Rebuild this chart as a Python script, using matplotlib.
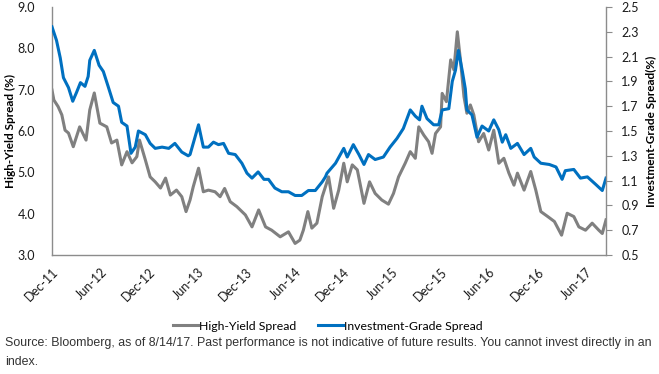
import matplotlib
matplotlib.use("Agg")
import matplotlib.pyplot as plt
import pandas as pd
from matplotlib.lines import Line2D

# ---------------- data ----------------
ig_dates = ["2011-12-01","2011-12-18","2012-01-01","2012-01-13","2012-02-01","2012-02-17","2012-03-02",
    "2012-03-17","2012-04-03","2012-04-15","2012-04-21","2012-05-08","2012-05-26","2012-06-11","2012-06-29",
    "2012-07-18","2012-08-07","2012-08-19","2012-09-08","2012-09-23","2012-10-09","2012-10-21","2012-11-16",
    "2012-12-04","2012-12-23","2013-01-18","2013-02-12","2013-03-07","2013-04-02","2013-04-26","2013-05-03",
    "2013-05-15","2013-06-04","2013-06-22","2013-07-11","2013-07-30","2013-08-18","2013-09-06","2013-09-25",
    "2013-10-20","2013-11-14","2013-12-03","2013-12-22","2014-01-14","2014-02-05","2014-02-22","2014-03-18",
    "2014-04-13","2014-05-08","2014-06-02","2014-06-27","2014-07-22","2014-08-17","2014-09-12","2014-09-24",
    "2014-09-30","2014-11-01","2014-12-02","2014-12-15","2015-01-07","2015-01-28","2015-02-16","2015-03-05",
    "2015-03-30","2015-04-30","2015-05-25","2015-06-20","2015-07-14","2015-08-09","2015-08-28","2015-09-13",
    "2015-09-22","2015-10-11","2015-11-05","2015-11-24","2015-12-07","2016-01-01","2016-01-14","2016-01-26",
    "2016-02-06","2016-02-21","2016-03-03","2016-03-09","2016-03-28","2016-04-16","2016-05-05","2016-05-30",
    "2016-06-18","2016-07-07","2016-07-20","2016-08-02","2016-08-21","2016-09-15","2016-10-10","2016-11-04",
    "2016-11-17","2016-12-12","2017-01-13","2017-02-07","2017-03-02","2017-03-14","2017-04-15","2017-05-10",
    "2017-06-05","2017-07-06","2017-07-31","2017-08-14"]
ig_values = [2.34,2.23,2.09,1.93,1.85,1.74,1.81,
    1.89,1.86,1.94,2.07,2.15,2.03,1.98,1.86,
    1.73,1.70,1.57,1.54,1.32,1.37,1.50,1.47,
    1.40,1.36,1.37,1.36,1.40,1.33,1.30,1.31,
    1.40,1.55,1.37,1.37,1.41,1.39,1.40,1.32,
    1.31,1.24,1.16,1.12,1.17,1.11,1.11,1.04,
    1.01,1.01,0.98,0.98,1.02,1.02,1.09,1.13,
    1.16,1.24,1.36,1.29,1.39,1.31,1.23,1.31,
    1.27,1.29,1.37,1.44,1.52,1.67,1.62,1.59,
    1.70,1.60,1.55,1.55,1.67,1.68,1.90,1.99,
    2.15,1.98,1.84,1.67,1.63,1.45,1.54,1.50,
    1.59,1.51,1.41,1.47,1.36,1.40,1.31,1.36,
    1.29,1.24,1.23,1.21,1.11,1.18,1.19,1.12,
    1.13,1.07,1.02,1.12]

hy_dates = ["2011-12-01","2011-12-08","2011-12-24","2012-01-07","2012-01-19","2012-02-01","2012-02-19",
    "2012-03-14","2012-04-07","2012-04-21","2012-05-08","2012-05-29","2012-06-24","2012-07-12","2012-08-01",
    "2012-08-19","2012-09-08","2012-09-27","2012-10-15","2012-10-25","2012-11-16","2012-12-04","2012-12-23",
    "2013-01-12","2013-01-31","2013-02-18","2013-03-13","2013-04-02","2013-04-18","2013-05-03","2013-05-15",
    "2013-06-04","2013-06-22","2013-07-11","2013-08-05","2013-08-24","2013-09-10","2013-10-01","2013-10-26",
    "2013-11-27","2013-12-22","2014-01-16","2014-02-11","2014-03-06","2014-04-07","2014-05-08","2014-06-02",
    "2014-06-20","2014-07-03","2014-07-20","2014-08-04","2014-08-23","2014-09-12","2014-09-24","2014-10-06",
    "2014-10-25","2014-11-13","2014-12-02","2014-12-15","2015-01-03","2015-01-22","2015-02-16","2015-03-09",
    "2015-03-30","2015-04-24","2015-05-19","2015-06-07","2015-06-26","2015-07-21","2015-08-09","2015-08-28",
    "2015-09-10","2015-09-29","2015-10-17","2015-10-30","2015-11-12","2015-12-01","2015-12-07","2015-12-23",
    "2016-01-08","2016-01-20","2016-02-02","2016-02-14","2016-02-27","2016-03-09","2016-03-22","2016-04-04",
    "2016-04-22","2016-05-11","2016-05-30","2016-06-18","2016-07-07","2016-07-26","2016-08-14","2016-09-02",
    "2016-09-15","2016-10-10","2016-11-04","2016-11-23","2016-12-12","2017-01-07","2017-02-01","2017-02-28",
    "2017-03-21","2017-04-15","2017-05-04","2017-05-29","2017-06-23","2017-07-18","2017-07-31","2017-08-14"]
hy_values = [6.99,6.75,6.59,6.39,6.02,5.95,5.62,
    6.10,5.78,6.51,6.92,6.19,6.10,5.71,5.78,
    5.18,5.50,5.23,5.38,5.78,5.30,4.89,4.77,
    4.62,4.86,4.45,4.57,4.41,4.05,4.33,4.65,
    5.10,4.53,4.57,4.53,4.41,4.61,4.29,4.17,
    3.97,3.68,4.09,3.68,3.60,3.44,3.56,3.28,
    3.36,3.60,4.05,3.65,3.77,4.41,4.65,4.89,
    4.13,4.57,5.22,4.77,5.18,5.06,4.25,4.77,
    4.49,4.33,4.23,4.49,4.89,5.22,5.50,5.34,
    6.10,5.90,5.74,5.46,5.94,6.10,6.91,6.71,
    7.72,7.48,8.40,7.70,6.83,6.43,6.63,6.39,
    5.74,5.94,5.54,6.02,5.22,5.34,4.98,4.69,
    4.98,4.57,5.02,4.57,4.05,3.93,3.81,3.48,
    4.01,3.93,3.68,3.60,3.77,3.60,3.52,3.85]

tick_dates = ["2011-12-01","2012-06-01","2012-12-01","2013-06-01","2013-12-01","2014-06-01",
              "2014-12-01","2015-06-01","2015-12-01","2016-06-01","2016-12-01","2017-06-01"]
tick_labels = ["Dec-11","Jun-12","Dec-12","Jun-13","Dec-13","Jun-14",
               "Dec-14","Jun-15","Dec-15","Jun-16","Dec-16","Jun-17"]
left_ticks = [3.0, 4.0, 5.0, 6.0, 7.0, 8.0, 9.0]
right_ticks = [0.5, 0.7, 0.9, 1.1, 1.3, 1.5, 1.7, 1.9, 2.1, 2.3, 2.5]
series_names = ["High-Yield Spread", "Investment-Grade Spread"]
source_text = ("Source: Bloomberg, as of 8/14/17. Past performance is not indicative of future results. "
               "You cannot invest directly in an\nindex.")

# ---------------- styling ----------------
GRAY = "#808080"
BLUE = "#0070C0"
AX_COLOR = "#8c8c8c"
FONT = ["Lato", "DejaVu Sans"]

fig = plt.figure(figsize=(6.59, 3.74), dpi=100)
ax = fig.add_axes([52/659, 1-255/374, (606-52)/659, (255-7)/374])
ax2 = ax.twinx()

hy_x = pd.to_datetime(hy_dates)
ig_x = pd.to_datetime(ig_dates)
ax.plot(hy_x, hy_values, color=GRAY, lw=2.2, solid_joinstyle="round")
ax2.plot(ig_x, ig_values, color=BLUE, lw=2.2, solid_joinstyle="round")

ax.set_xlim(pd.Timestamp("2011-12-01"), pd.Timestamp("2017-08-14"))
ax.set_ylim(3.0, 9.0)
ax2.set_ylim(0.5, 2.5)

ax.set_xticks(pd.to_datetime(tick_dates))
ax.set_xticklabels(tick_labels, rotation=45, ha="right", va="top",
                   rotation_mode="anchor", fontsize=9, family=FONT, color="#1a1a1a")
ax.tick_params(axis="x", length=0, pad=8)

ax.set_yticks(left_ticks)
ax.set_yticklabels([f"{v:.1f}" for v in left_ticks], fontsize=9, family=FONT, color="#1a1a1a")
ax.tick_params(axis="y", length=0, pad=12)

ax2.set_yticks(right_ticks)
ax2.set_yticklabels([f"{v:.1f}" for v in right_ticks], fontsize=9, family=FONT, color="#1a1a1a")
ax2.tick_params(axis="y", length=4, width=0.8, color=AX_COLOR, direction="out", pad=7)

for a in (ax, ax2):
    a.spines["top"].set_visible(False)
    for s in ("left", "right", "bottom"):
        a.spines[s].set_color(AX_COLOR)
        a.spines[s].set_linewidth(1.0)
ax.spines["right"].set_visible(False)
ax2.spines["left"].set_visible(False)
ax2.spines["bottom"].set_visible(False)

fig.text(10/659, 1-131/374, "High-Yield Spread (%)", rotation=90, ha="center", va="center",
         fontsize=8.5, fontweight="bold", family=FONT)
fig.text(651/659, 1-131/374, "Investment-Grade Spread(%)", rotation=90, ha="center", va="center",
         fontsize=8.5, fontweight="bold", family=FONT)

handles = [Line2D([0], [0], color=GRAY, lw=2.2), Line2D([0], [0], color=BLUE, lw=2.2)]
fig.legend(handles, series_names, loc="center", bbox_to_anchor=(328/659, 1-326/374),
           ncol=2, frameon=False, handlelength=2.0, handletextpad=0.1, columnspacing=1.8,
           prop={"family": FONT, "size": 8.8})

fig.text(5/659, 1-337/374, source_text, ha="left", va="top", fontsize=8.9,
         family=["Liberation Sans", "DejaVu Sans"], color="#333333", linespacing=1.75)

fig.savefig("out.png", dpi=100)
